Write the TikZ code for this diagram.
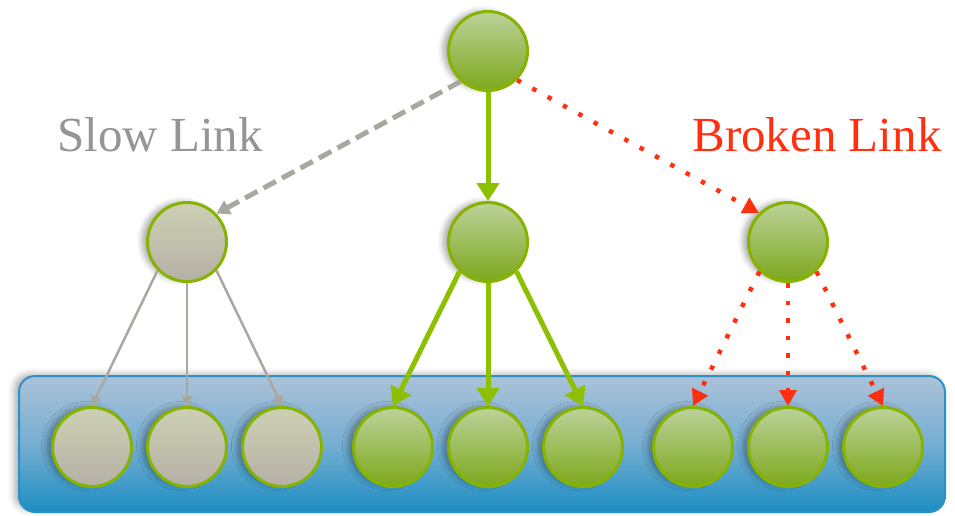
\documentclass[tikz,border=0pt]{standalone}
\usepackage{fontspec}
\setmainfont{Liberation Serif}
\usetikzlibrary{arrows.meta,shadows.blur}
\definecolor{leafedge}{HTML}{86B300}
\definecolor{leaftop}{HTML}{BCD29A}
\definecolor{leafbot}{HTML}{7DA81C}
\definecolor{stonetop}{HTML}{CDD0B4}
\definecolor{stonebot}{HTML}{B5B0A6}
\definecolor{slowgray}{HTML}{A9A8A0}
\definecolor{slowtext}{HTML}{959595}
\definecolor{brokenred}{HTML}{FF3010}
\definecolor{tiertop}{HTML}{ABC2D8}
\definecolor{tiermid}{HTML}{76AED2}
\definecolor{tierbot}{HTML}{1C8EC2}
\definecolor{tieredge}{HTML}{2A92C6}
\definecolor{fastgreen}{HTML}{8CC000}
\tikzset{
  host/.style={circle, minimum size=79pt, inner sep=0pt, line width=3pt,
    draw=leafedge,
    blur shadow={shadow xshift=-6pt, shadow yshift=1pt, shadow blur radius=5pt,
      shadow opacity=30}},
  greenhost/.style={host, top color=leaftop, bottom color=leafbot},
  grayhost/.style={host, top color=stonetop, bottom color=stonebot},
  fastlink/.style={draw=fastgreen, line width=5pt,
    -{Triangle[length=18pt,width=22pt]}},
  slowlink/.style={draw=slowgray, line width=5pt, dash pattern=on 14pt off 7pt,
    -{Triangle[length=13pt,width=15pt]}},
  thinlink/.style={draw=slowgray, line width=2.5pt,
    -{Triangle[length=10pt,width=11pt]}},
  brokenlink/.style={draw=brokenred, line width=4.5pt,
    dash pattern=on 4.5pt off 13pt,
    -{Triangle[length=16pt,width=17pt]}},
  caption/.style={font=\fontsize{49}{56}\selectfont, inner sep=0pt}
}
\begin{document}
\begin{tikzpicture}[x=1pt,y=-1pt]
\useasboundingbox (0,0) rectangle (955,515);

% tier box holding the leaf hosts
\path[draw=tieredge, line width=2pt, rounded corners=16pt,
  top color=tiertop, bottom color=tierbot, middle color=tiermid,
  blur shadow={shadow xshift=-5pt, shadow yshift=2pt, shadow blur radius=6pt, shadow opacity=30}]
  (19,376) rectangle (945,512);

% captions
\node[caption, text=slowtext] (slowcap) at (160,135) {Slow Link};
\node[caption, text=brokenred] (brokencap) at (817,135) {Broken Link};

% hosts
\node[greenhost] (root) at (488,51) {};
\node[grayhost]  (ml) at (187,242) {};
\node[greenhost] (mc) at (488,242) {};
\node[greenhost] (mr) at (788,242) {};

\foreach \n/\x in {l1/92,l2/187,l3/282}
  \node[grayhost] (\n) at (\x,447) {};
\foreach \n/\x in {c1/393,c2/488,c3/583,r1/693,r2/788,r3/883}
  \node[greenhost] (\n) at (\x,447) {};

% links from the root
\draw[slowlink] (root.228) -- (ml.44);
\draw[fastlink] (root.south) -- (mc.north);
\draw[brokenlink] (root.-45) -- (mr.135);

% links to the leaves
\draw[thinlink] (ml.224) -- (l1.north);
\draw[thinlink] (ml.south) -- (l2.north);
\draw[thinlink] (ml.-44) -- (l3.north);
\draw[fastlink] (mc.226) -- (c1.north);
\draw[fastlink] (mc.south) -- (c2.north);
\draw[fastlink] (mc.-46) -- (c3.north);
\draw[brokenlink] (mr.226) -- (r1.north);
\draw[brokenlink] (mr.south) -- (r2.north);
\draw[brokenlink] (mr.-46) -- (r3.north);
\end{tikzpicture}
\end{document}
